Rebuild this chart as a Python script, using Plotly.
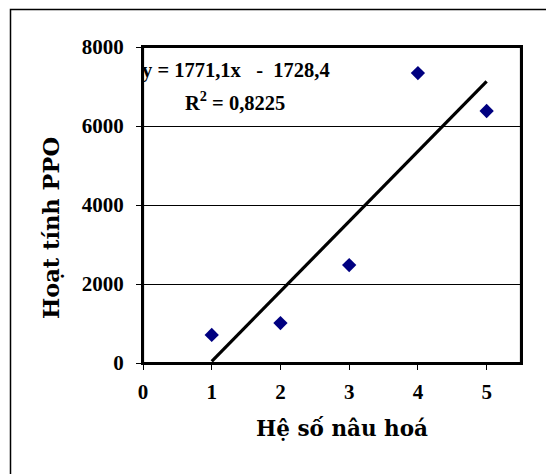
import plotly.graph_objects as go

# Data
x_vals = [1, 2, 3, 4, 5]
y_vals = [710, 1010, 2480, 7340, 6380]
slope = 1771.1
intercept = -1728.4
x_ticks = [0, 1, 2, 3, 4, 5]
y_ticks = [0, 2000, 4000, 6000, 8000]
eq_text = "y = 1771,1x\u00a0\u00a0\u00a0-\u00a0 1728,4"
r2_text = "R<sup>2</sup> = 0,8225"
x_title = "Hệ số nâu hoá"
y_title = "Hoạt tính PPO"

trend_x = [min(x_vals), max(x_vals)]
trend_y = [slope * v + intercept for v in trend_x]

W, H = 546, 474
ML, MR, MT, MB = 143, 25, 47, 111
PW, PH = W - ML - MR, H - MT - MB

def px_to_paper_x(px):
    return (px - ML) / PW

def px_to_paper_y(py):
    return (H - MB - py) / PH

tick_font = dict(family="Liberation Serif", size=21, color="black", weight="bold")
xtitle_font = dict(family="DejaVu Serif", size=21.5, color="black", weight="bold")
ytitle_font = dict(family="DejaVu Serif", size=22.5, color="black", weight="bold")
eq_font = dict(family="Liberation Serif", size=20.5, color="black", weight="bold")

fig = go.Figure()
fig.add_trace(go.Scatter(
    x=x_vals, y=y_vals, mode="markers",
    marker=dict(symbol="diamond", size=11, color="#000080"),
    showlegend=False, hoverinfo="skip",
))
fig.add_trace(go.Scatter(
    x=trend_x, y=trend_y, mode="lines",
    line=dict(color="black", width=3.2),
    showlegend=False, hoverinfo="skip",
))

fig.update_layout(
    width=W, height=H,
    margin=dict(l=ML, r=MR, t=MT, b=MB, pad=0),
    paper_bgcolor="white", plot_bgcolor="white",
    showlegend=False,
    xaxis=dict(
        range=[0, 5.5], tickmode="array", tickvals=x_ticks,
        ticktext=[str(v) for v in x_ticks],
        showgrid=False, zeroline=False,
        showline=True, linecolor="black", linewidth=2, mirror=True,
        ticks="outside", ticklen=5, tickcolor="black", tickwidth=1,
        tickfont=tick_font, ticklabelstandoff=4,
    ),
    yaxis=dict(
        range=[0, 8000], tickmode="array", tickvals=y_ticks,
        ticktext=[str(v) for v in y_ticks],
        showgrid=True, gridcolor="black", gridwidth=1,
        zeroline=False,
        showline=True, linecolor="black", linewidth=2, mirror=True,
        ticks="outside", ticklen=5, tickcolor="black", tickwidth=1,
        tickfont=tick_font, ticklabelstandoff=8,
    ),
    shapes=[
        dict(
            type="rect", xref="paper", yref="paper",
            x0=px_to_paper_x(10.5), x1=px_to_paper_x(W + 20),
            y0=px_to_paper_y(H + 20), y1=px_to_paper_y(9.5),
            line=dict(color="black", width=1.5), fillcolor="rgba(0,0,0,0)",
            layer="below",
        ),
        dict(
            type="rect", xref="paper", yref="paper",
            x0=0, x1=1, y0=0, y1=1,
            line=dict(color="black", width=2.2), fillcolor="rgba(0,0,0,0)",
            layer="above",
        ),
    ],
    annotations=[
        dict(text=eq_text, xref="paper", yref="paper",
             x=px_to_paper_x(140), y=px_to_paper_y(70),
             xanchor="left", yanchor="middle", showarrow=False, font=eq_font),
        dict(text=r2_text, xref="paper", yref="paper",
             x=px_to_paper_x(183), y=px_to_paper_y(101),
             xanchor="left", yanchor="middle", showarrow=False, font=eq_font),
        dict(text=x_title, xref="paper", yref="paper",
             x=px_to_paper_x(342), y=px_to_paper_y(428),
             xanchor="center", yanchor="middle", showarrow=False, font=xtitle_font),
        dict(text=y_title, xref="paper", yref="paper",
             x=px_to_paper_x(51), y=px_to_paper_y(228),
             xanchor="center", yanchor="middle", showarrow=False, font=ytitle_font,
             textangle=-90),
    ],
)

fig.write_html(
    "out.html",
    config={"displayModeBar": False},
    post_script="document.body.style.margin='0px';document.body.style.overflow='hidden';",
)
